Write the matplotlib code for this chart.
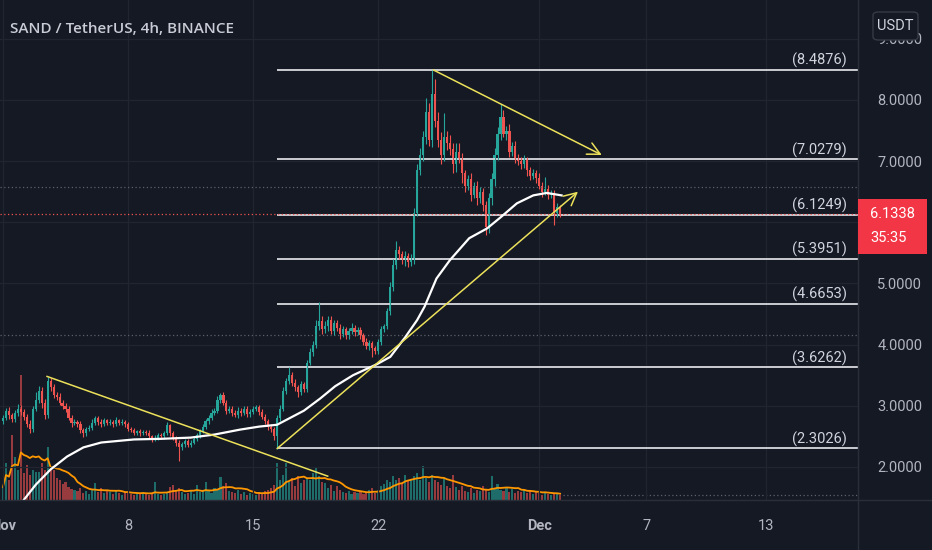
import numpy as np
import pandas as pd
import matplotlib
matplotlib.use('Agg')
import matplotlib.pyplot as plt
import matplotlib.transforms as mtransforms
from matplotlib.patches import Rectangle, FancyBboxPatch

plt.rcParams['font.family'] = ['Roboto', 'DejaVu Sans']

# 4h candles, SAND/USDT, Nov 1 -> Dec 2 (6 per day)
first_open = 2.75
closes = [
    2.80, 2.92, 2.85, 2.78, 2.88, 2.95,   # Nov 1
    2.90, 2.82, 2.70, 2.62, 2.95, 3.10,
    3.25, 3.05, 2.85, 3.40, 3.30, 3.18,
    3.15, 3.05, 3.00, 2.95, 2.80, 2.72,
    2.74, 2.70, 2.60, 2.55, 2.62, 2.64,
    2.72, 2.80, 2.74, 2.70, 2.76, 2.72,
    2.74, 2.70, 2.76, 2.72, 2.74, 2.70,
    2.62, 2.60, 2.56, 2.58, 2.55, 2.57,   # Nov 8
    2.56, 2.50, 2.45, 2.48, 2.52, 2.50,
    2.55, 2.68, 2.55, 2.48, 2.40, 2.32,
    2.38, 2.42, 2.36, 2.40, 2.46, 2.52,
    2.58, 2.66, 2.75, 2.80, 2.88, 2.92,
    3.10, 3.18, 3.05, 2.92, 2.95, 2.88,
    2.85, 2.92, 2.88, 2.95, 2.86, 2.90,
    2.94, 2.98, 2.90, 2.82, 2.75, 2.66,   # Nov 15
    2.62, 2.50, 2.80, 2.95, 3.25, 3.40,
    3.50, 3.38, 3.30, 3.22, 3.35, 3.28,
    3.70, 3.88, 4.00, 4.30, 4.38, 4.25,
    4.30, 4.40, 4.22, 4.35, 4.28, 4.18,
    4.25, 4.15, 4.22, 4.28, 4.20, 4.24,
    4.15, 4.05, 3.98, 4.02, 3.94, 3.90,
    4.05, 4.25, 4.30, 4.55, 4.95, 5.30,   # Nov 22
    5.55, 5.48, 5.38, 5.45, 5.35, 5.42,
    6.15, 6.85, 7.10, 7.40, 7.80, 7.35,
    8.10, 7.65, 7.35, 7.10, 7.40, 7.30,
    7.20, 6.95, 7.15, 7.05, 6.80, 6.60,
    6.70, 6.45, 6.60, 6.40, 6.50, 6.28,
    5.92, 6.40, 6.70, 7.10, 7.45, 7.72,
    7.45, 7.50, 7.15, 7.25, 7.05, 7.00,   # Nov 29
    6.95, 7.02, 6.85, 6.75, 6.80, 6.72,
    6.60, 6.50, 6.55, 6.45, 6.48, 6.15,   # Dec 1
    6.25, 6.1338,
]
upper_wick = [
    .05, .04, .06, .03, .05, .08,
    .06, .05, .04, .06, .05, .12,
    .08, .05, .06, .07, .05, .06,
    .05, .06, .04, .05, .04, .05,
    .04, .03, .05, .04, .03, .04,
    .06, .04, .03, .05, .04, .03,
    .04, .03, .05, .03, .04, .03,
    .03, .04, .03, .03, .04, .03,
    .03, .04, .03, .05, .03, .04,
    .03, .05, .03, .04, .03, .04,
    .03, .04, .03, .04, .03, .04,
    .04, .05, .04, .05, .06, .05,
    .06, .03, .05, .04, .05, .04,
    .05, .06, .04, .05, .04, .05,
    .05, .04, .04, .05, .04, .03,
    .04, .04, .05, .06, .05, .06,
    .14, .06, .05, .04, .05, .04,
    .05, .06, .06, .10, .32, .08,
    .08, .06, .07, .05, .06, .05,
    .05, .04, .05, .08, .04, .05,
    .05, .04, .06, .05, .04, .03,
    .05, .06, .04, .05, .08, .10,
    .15, .06, .05, .08, .05, .06,
    .08, .10, .12, .10, .23, .15,
    .39, .25, .15, .12, .38, .10,
    .12, .10, .14, .15, .08, .06,
    .08, .10, .06, .08, .07, .06,
    .06, .08, .10, .12, .10, .22,
    .12, .08, .10, .06, .08, .07,
    .06, .08, .05, .06, .07, .05,
    .08, .06, .19, .06, .05, .04,
    .06, .04,
]
lower_wick = [
    .05, .04, .06, .05, .04, .05,
    .05, .06, .05, .06, .05, .04,
    .05, .08, .06, .05, .06, .05,
    .05, .04, .06, .05, .04, .06,
    .04, .05, .04, .06, .04, .03,
    .04, .03, .05, .04, .03, .04,
    .03, .04, .03, .04, .03, .04,
    .04, .03, .04, .03, .04, .03,
    .04, .05, .04, .03, .04, .05,
    .04, .03, .05, .04, .05, .23,
    .04, .05, .03, .04, .03, .04,
    .04, .03, .04, .05, .04, .03,
    .04, .05, .04, .05, .04, .05,
    .04, .05, .04, .03, .05, .04,
    .04, .03, .05, .04, .05, .06,
    .05, .06, .20, .05, .04, .05,
    .05, .06, .05, .08, .05, .06,
    .05, .04, .06, .05, .06, .07,
    .06, .08, .05, .06, .05, .08,
    .05, .06, .05, .04, .06, .05,
    .05, .06, .05, .06, .14, .05,
    .05, .06, .05, .04, .06, .08,
    .06, .08, .06, .10, .08, .06,
    .10, .05, .08, .10, .12, .10,
    .12, .10, .12, .15, .10, .12,
    .10, .14, .12, .08, .15, .10,
    .08, .10, .06, .12, .08, .10,
    .13, .10, .12, .10, .08, .10,
    .06, .10, .08, .06, .08, .07,
    .08, .06, .10, .06, .05, .08,
    .06, .08, .06, .07, .06, .20,
    .06, .05,
]
volume = [
    13, 37, 20, 65, 43, 30,
    125, 27, 35, 25, 30, 28,
    28, 37, 30, 53, 32, 30,
    22, 20, 16, 18, 13, 11,
    10, 9, 12, 7, 9, 6,
    10, 17, 8, 12, 7, 9,
    8, 6, 9, 7, 5, 8,
    9, 6, 5, 7, 6, 8,
    7, 5, 6, 18, 6, 5,
    6, 8, 13, 15, 9, 12,
    8, 6, 7, 9, 6, 15,
    8, 10, 18, 9, 7, 12,
    10, 23, 14, 17, 9, 8,
    7, 10, 6, 8, 5, 7,
    6, 5, 8, 6, 9, 10,
    12, 15, 37, 20, 25, 37,
    18, 22, 14, 24, 17, 20,
    21, 20, 27, 32, 24, 18,
    17, 12, 15, 9, 14, 10,
    8, 7, 9, 6, 8, 7,
    9, 6, 8, 10, 12, 7,
    10, 14, 16, 20, 18, 24,
    20, 22, 17, 25, 19, 21,
    24, 27, 20, 34, 22, 18,
    25, 20, 18, 15, 22, 14,
    12, 25, 13, 10, 14, 9,
    8, 12, 7, 10, 9, 14,
    10, 8, 24, 12, 16, 10,
    9, 13, 8, 11, 7, 9,
    8, 10, 7, 9, 6, 8,
    7, 5, 8, 6, 5, 7,
    6, 5,
]

# white moving average (candle index, price)
ma_idx = [6, 11, 16, 21.5, 27, 33, 44, 53, 63, 71, 79.5, 86, 92, 101, 106.5, 111.5,
          117.5, 125.5, 130, 135, 139, 141.5, 145.5, 150, 156.5, 162.5, 167, 172.5,
          178, 182.5, 187.5]
ma_val = [1.40, 1.71, 1.96, 2.17, 2.32, 2.40, 2.45, 2.46, 2.48, 2.53, 2.61, 2.66, 2.69,
          2.92, 3.12, 3.32, 3.50, 3.68, 3.80, 4.12, 4.40, 4.62, 5.08, 5.38, 5.74, 5.90,
          6.08, 6.31, 6.44, 6.48, 6.44]

fib_levels = [8.4876, 7.0279, 6.1249, 5.3951, 4.6653, 3.6262, 2.3026]
fib_start = 92
dotted_levels = [6.57, 4.16]

# trend lines: (start idx, start price), (end idx, end price), arrow
trend_lines = [((14.8, 3.48), (109, 1.85), False),
               ((92, 2.30), (193, 6.50), True),
               ((144.5, 8.49), (201, 7.10), True)]

tick_pos = [0, 42, 84, 126, 180, 216, 256]
tick_lab = ['Nov', '8', '15', '22', 'Dec', '7', '13']
price_ticks = [2, 3, 4, 5, 6, 7, 8, 9]

BG = '#151924'
GRID = '#21252f'
TXT = '#b2b5be'
GREEN = '#26a69a'
RED = '#ef5350'
YELLOW = '#ece15a'

c = np.array(closes)
o = np.array([first_open] + closes[:-1])
h = np.maximum(o, c) + np.array(upper_wick)
l = np.minimum(o, c) - np.array(lower_wick)
n = len(c)
x = np.arange(n)
up = c >= o
cols = np.where(up, GREEN, RED)

fig = plt.figure(figsize=(9.32, 5.5), dpi=100, facecolor=BG)
ax = fig.add_axes([0, 50 / 550, 858 / 932, 500 / 550])
axv = ax.twinx()
ax.set_zorder(axv.get_zorder() + 1)
ax.patch.set_visible(False)
axv.patch.set_visible(False)

xmax = 287
ax.set_xlim(-1, xmax)
ax.set_ylim(1.46, 9.634)

# volume
axv.bar(x, volume, width=0.7, color=cols, alpha=0.6, linewidth=0)
vol_ma = pd.Series(volume).rolling(10, min_periods=1).mean()
axv.plot(x, vol_ma, color='#ff9800', lw=1.3)
axv.hlines(volume[-1], n, xmax, color='#5d606b', lw=0.9, linestyles=(0, (1, 2)))
axv.set_ylim(0, max(volume) * 4.0)
axv.set_yticks([])
for s in axv.spines.values():
    s.set_visible(False)

# grid; the 6.0000 label sits under the last-price box
ax.set_yticks(price_ticks)
ax.set_yticklabels(['' if v == 6 else '%.4f' % v for v in price_ticks])
ax.set_xticks(tick_pos)
ax.set_xticklabels(tick_lab)
ax.grid(True, color=GRID, lw=0.9)
ax.set_axisbelow(True)
for s in ax.spines.values():
    s.set_visible(False)
ax.yaxis.tick_right()
ax.tick_params(axis='y', length=0, pad=14, labelcolor=TXT, labelsize=10.5)
ax.tick_params(axis='x', length=0, pad=14, labelcolor=TXT, labelsize=10.5)
for t in ax.get_xticklabels():
    if t.get_text() in ('Nov', 'Dec'):
        t.set_fontweight('bold')

# reference dotted lines
for lev in dotted_levels:
    ax.axhline(lev, color='#5d606b', lw=0.9, ls=(0, (1, 2)))

# fib levels
blend = mtransforms.blended_transform_factory(ax.transAxes, ax.transData)
for lev in fib_levels:
    ax.hlines(lev, fib_start, xmax, color='#d8dae0', lw=1.3)
    ax.text(847 / 858, lev + 0.03, '(%.4f)' % lev, transform=blend, ha='right', va='bottom',
            color='#d1d4dc', fontsize=10.5)

# current price line
ax.axhline(c[-1], color=RED, lw=0.9, ls=(0, (1, 2)))

# candles
ax.vlines(x, l, h, color=cols, lw=0.8)
ax.bar(x, np.maximum(np.abs(c - o), 0.012), bottom=np.minimum(o, c), width=0.72,
       color=cols, linewidth=0)

# white MA
ax.plot(ma_idx, ma_val, color='white', lw=1.6)

# trend lines
for (x0, y0), (x1, y1), arrow in trend_lines:
    if arrow:
        ax.annotate('', xy=(x1, y1), xytext=(x0, y0),
                    arrowprops=dict(arrowstyle='->,head_length=0.9,head_width=0.45',
                                    color=YELLOW, lw=1.1, shrinkA=0, shrinkB=0))
    else:
        ax.plot([x0, x1], [y0, y1], color=YELLOW, lw=1.1)

# borders
fig.add_artist(plt.Line2D([858 / 932, 858 / 932], [0, 1], color='#2a2e39', lw=1))
fig.add_artist(plt.Line2D([0, 1], [50 / 550, 50 / 550], color='#2a2e39', lw=1))

# title
fig.text(10 / 932, 1 - 29 / 550, 'SAND / TetherUS, 4h, BINANCE', va='center', ha='left',
         color='#c9ccd4', fontsize=11, family=['Open Sans', 'DejaVu Sans'], fontweight='semibold')

# currency box (covers the top of the 9.0000 label)
fig.add_artist(FancyBboxPatch((873 / 932, 1 - 40 / 550), 45 / 932, 28 / 550,
                              boxstyle='round,pad=0,rounding_size=0.006',
                              transform=fig.transFigure, facecolor=BG, edgecolor='#363a45',
                              lw=1, zorder=10))
fig.text(895.5 / 932, 1 - 25.5 / 550, 'USDT', ha='center', va='center', color='#d1d4dc',
         fontsize=10.5, zorder=11)

# last price box
fig.canvas.draw()
ypix = ax.transData.transform((0, c[-1]))[1]
yf = ypix / fig.bbox.height
fig.add_artist(Rectangle((858 / 932, yf - 40 / 550), 69 / 932, 55 / 550,
                         transform=fig.transFigure, facecolor='#f23645', edgecolor='none',
                         zorder=10))
fig.text(870 / 932, yf, '%.4f' % c[-1], ha='left', va='center', color='white',
         fontsize=10.5, zorder=11)
fig.text(870 / 932, yf - 24 / 550, '35:35', ha='left', va='center', color='white',
         fontsize=10.5, zorder=11)

fig.savefig('out.png', dpi=100, facecolor=BG)
